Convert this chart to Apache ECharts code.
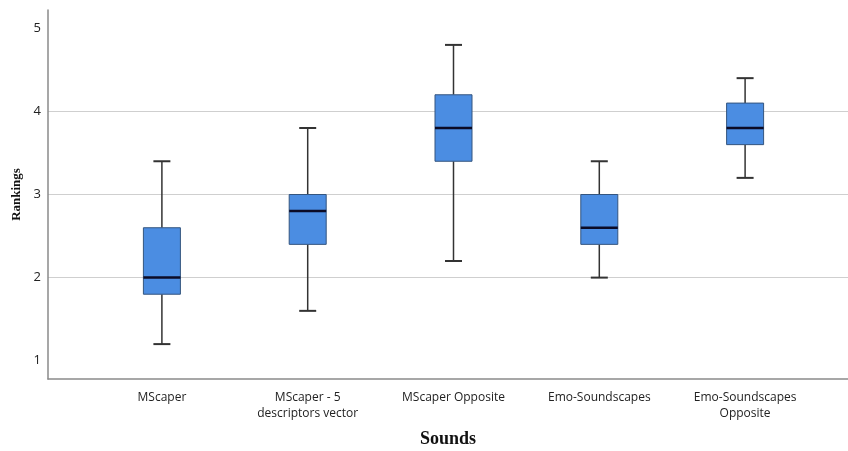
<!DOCTYPE html>
<html>
<head>
<meta charset="utf-8">
<script src="https://cdn.jsdelivr.net/npm/echarts@6/dist/echarts.min.js"></script>
<style type="text/css">
  html, body { margin: 0; padding: 0; background: #fff; }
  #chart { width: 848px; height: 451px; }
</style>
</head>
<body>
<div id="chart"></div>
<script>
  // categories and the five-number summaries
  var sounds = ['MScaper', 'MScaper - 5\ndescriptors vector', 'MScaper Opposite', 'Emo-Soundscapes', 'Emo-Soundscapes\nOpposite'];
  var mins    = [1.2, 1.6, 2.2, 2.0, 3.2];
  var q1s     = [1.8, 2.4, 3.4, 2.4, 3.6];
  var medians = [2.0, 2.8, 3.8, 2.6, 3.8];
  var q3s     = [2.6, 3.0, 4.2, 3.0, 4.1];
  var maxs    = [3.4, 3.8, 4.8, 3.4, 4.4];
  var yTicks  = [1, 2, 3, 4, 5];

  var boxData = [];
  for (var i = 0; i < sounds.length; i++) {
    boxData.push([i, mins[i], q1s[i], medians[i], q3s[i], maxs[i]]);
  }

  var yMin = 0.78, yMax = 5.22;

  function renderBox(params, api) {
    var idx = api.value(0);
    var pMin = api.coord([idx, api.value(1)]);
    var pQ1 = api.coord([idx, api.value(2)]);
    var pMed = api.coord([idx, api.value(3)]);
    var pQ3 = api.coord([idx, api.value(4)]);
    var pMax = api.coord([idx, api.value(5)]);
    var cx = pMed[0];
    var hw = 18.5, cw = 8.5;
    var whisker = { stroke: '#333', lineWidth: 1.5 };
    return {
      type: 'group',
      children: [
        { type: 'line', shape: { x1: cx, y1: pMin[1], x2: cx, y2: pQ1[1] }, style: whisker },
        { type: 'line', shape: { x1: cx, y1: pQ3[1], x2: cx, y2: pMax[1] }, style: whisker },
        { type: 'line', shape: { x1: cx - cw, y1: pMin[1], x2: cx + cw, y2: pMin[1] }, style: { stroke: '#333', lineWidth: 2 } },
        { type: 'line', shape: { x1: cx - cw, y1: pMax[1], x2: cx + cw, y2: pMax[1] }, style: { stroke: '#333', lineWidth: 2 } },
        { type: 'rect', shape: { x: cx - hw, y: pQ3[1], width: hw * 2, height: pQ1[1] - pQ3[1] },
          style: { fill: '#4B8DE2', stroke: '#34557f', lineWidth: 1 } },
        { type: 'line', shape: { x1: cx - hw, y1: pMed[1], x2: cx + hw, y2: pMed[1] }, style: { stroke: '#0b0b26', lineWidth: 2.5 } }
      ]
    };
  }

  var chart = echarts.init(document.getElementById('chart'));
  chart.setOption({
    animation: false,
    grid: [
      { left: 48, right: 0, top: 10, bottom: 72, containLabel: false, outerBoundsMode: 'none' },
      { left: 89, right: 30, top: 10, bottom: 72, containLabel: false, outerBoundsMode: 'none' }
    ],
    xAxis: [
      {
        gridIndex: 0, type: 'value', min: 0, max: 1,
        name: 'Sounds', nameLocation: 'middle', nameGap: 51,
        nameTextStyle: { fontFamily: 'Liberation Serif', fontWeight: 'bold', fontSize: 18, color: '#111' },
        axisLine: { show: true, lineStyle: { color: '#8a8a8a', width: 1.5 } },
        axisTick: { show: false }, axisLabel: { show: false }, splitLine: { show: false }
      },
      {
        gridIndex: 1, type: 'category', data: sounds,
        axisLine: { show: false }, axisTick: { show: false }, splitLine: { show: false },
        axisLabel: { margin: 11, fontFamily: 'Open Sans', fontSize: 12, color: '#222', lineHeight: 16 }
      }
    ],
    yAxis: [
      {
        gridIndex: 0, type: 'value', min: yMin, max: yMax,
        name: 'Rankings', nameLocation: 'middle', nameGap: 20,
        nameTextStyle: { fontFamily: 'Liberation Serif', fontWeight: 'bold', fontSize: 13, color: '#111' },
        axisLine: { show: true, lineStyle: { color: '#8a8a8a', width: 1.5 } },
        axisTick: { show: false, customValues: yTicks },
        axisLabel: { customValues: yTicks, margin: 7, fontFamily: 'Open Sans', fontSize: 13, color: '#222' },
        splitLine: { show: true, showMinLine: false, showMaxLine: false, lineStyle: { color: '#cfcfcf', width: 1.2 } }
      },
      {
        gridIndex: 1, type: 'value', min: yMin, max: yMax, show: false,
        splitLine: { show: false }
      }
    ],
    series: [
      {
        type: 'custom',
        xAxisIndex: 1, yAxisIndex: 1,
        renderItem: renderBox,
        encode: { x: 0, y: [1, 2, 3, 4, 5] },
        data: boxData
      }
    ]
  });
</script>
</body>
</html>
